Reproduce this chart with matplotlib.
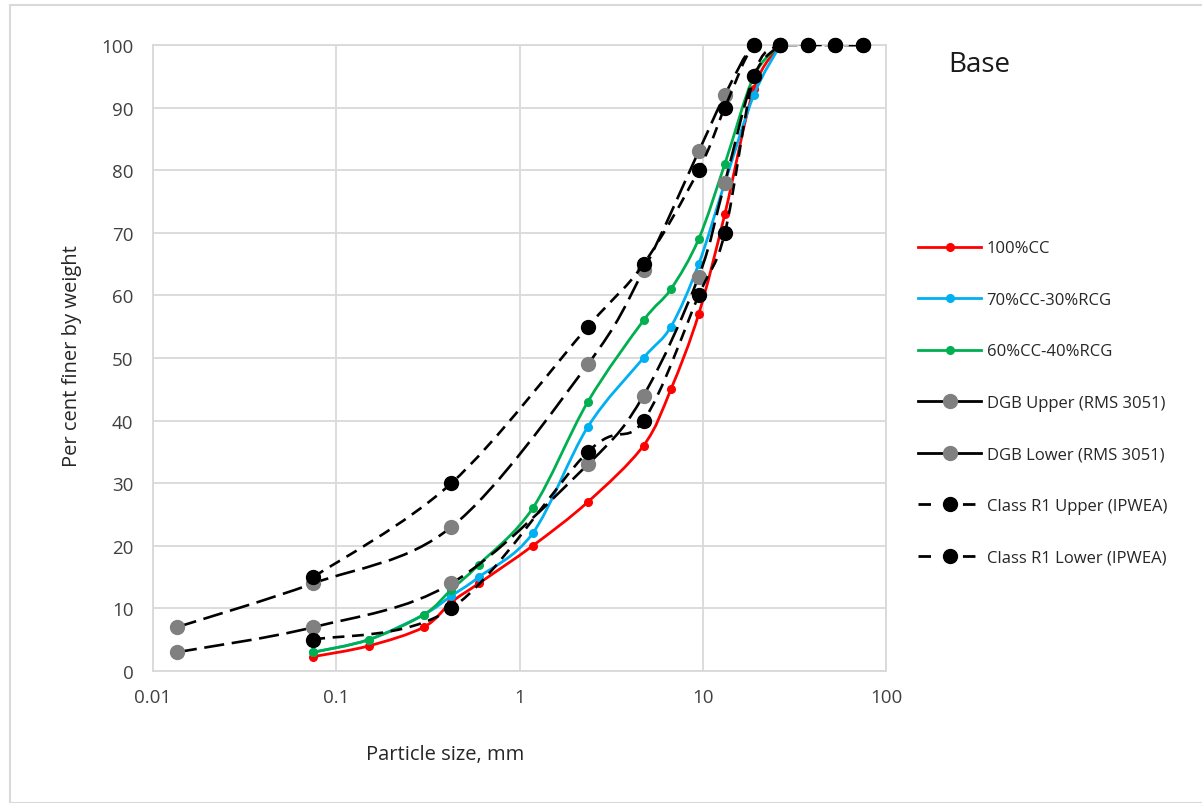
import numpy as np
import matplotlib
matplotlib.use('Agg')
import matplotlib.pyplot as plt
from matplotlib.path import Path
from matplotlib.patches import PathPatch, Rectangle
from matplotlib.lines import Line2D

plt.rcParams['font.family'] = ['Open Sans', 'DejaVu Sans']
plt.rcParams['lines.scale_dashes'] = False

# particle size data (mm) and per cent passing
mix_size = [0.075, 0.15, 0.3, 0.425, 0.6, 1.18, 2.36, 4.75, 6.7, 9.5, 13.2, 19, 26.5]
cc100 = [2.3, 4, 7, 11, 14, 20, 27, 36, 45, 57, 73, 93, 100]
cc70_rcg30 = [3, 5, 9, 12, 15, 22, 39, 50, 55, 65, 78, 92, 100]
cc60_rcg40 = [3, 5, 9, 13, 17, 26, 43, 56, 61, 69, 81, 95, 100]

dgb_size = [0.0135, 0.075, 0.425, 2.36, 4.75, 9.5, 13.2, 19, 26.5]
dgb_upper = [7, 14, 23, 49, 64, 83, 92, 100, 100]
dgb_lower = [3, 7, 14, 33, 44, 63, 78, 95, 100]

r1_size = [0.075, 0.425, 2.36, 4.75, 9.5, 13.2, 19, 26.5, 37.5, 53, 75]
r1_upper = [15, 30, 55, 65, 80, 90, 100, 100, 100, 100, 100]
r1_lower = [5, 10, 35, 40, 60, 70, 95, 100, 100, 100, 100]

labels = ['100%CC', '70%CC-30%RCG', '60%CC-40%RCG', 'DGB Upper (RMS 3051)',
          'DGB Lower (RMS 3051)', 'Class R1 Upper (IPWEA)', 'Class R1 Lower (IPWEA)']

RED, BLUE, GREEN, GREY = '#FF0000', '#00B0F0', '#00B050', '#808080'
SHORT = (0, (8.5, 5.5))
LONG = (0, (14.5, 5.5))


def smooth_path(x, y):
    # Excel-like smoothed line: cubic bezier, catmull-rom tangents in log-x space
    lx = np.log10(np.asarray(x, float))
    yy = np.asarray(y, float)
    pts = np.column_stack([lx, yy])
    n = len(pts)
    verts = [pts[0]]
    codes = [Path.MOVETO]
    for i in range(n - 1):
        p0 = pts[max(i - 1, 0)]
        p1 = pts[i]
        p2 = pts[i + 1]
        p3 = pts[min(i + 2, n - 1)]
        c1 = p1 + (p2 - p0) / 6.0
        c2 = p2 - (p3 - p1) / 6.0
        verts += [c1, c2, p2]
        codes += [Path.CURVE4] * 3
    verts = np.array(verts)
    verts[:, 0] = 10 ** verts[:, 0]
    return Path(verts, codes)


fig = plt.figure(figsize=(12.02, 8.04), dpi=100)
W, H = 1202, 804
fig.patches.append(Rectangle((10 / W, 0), 1.0, 1 - 6 / H, transform=fig.transFigure,
                             fill=False, edgecolor='#D9D9D9', lw=1.5))

ax = fig.add_axes([153 / W, 1 - 672 / H, 733 / W, 626 / H])
ax.set_xscale('log')
ax.set_xlim(0.01, 100)
ax.set_ylim(0, 100)
ax.set_yticks(range(0, 101, 10))
ax.set_xticks([0.01, 0.1, 1, 10, 100])
ax.set_xticklabels(['0.01', '0.1', '1', '10', '100'])
ax.xaxis.set_minor_locator(matplotlib.ticker.NullLocator())
ax.grid(True, color='#D9D9D9', lw=1.3)
ax.set_axisbelow(True)
for s in ax.spines.values():
    s.set_color('#D9D9D9')
    s.set_linewidth(1.3)
ax.tick_params(length=0, labelsize=13.5, labelcolor='#404040')
ax.tick_params(axis='y', pad=14)
ax.tick_params(axis='x', pad=12)

series = [
    (mix_size, cc100, RED, '-', RED, 5.5),
    (mix_size, cc70_rcg30, BLUE, '-', BLUE, 5.5),
    (mix_size, cc60_rcg40, GREEN, '-', GREEN, 5.5),
    (dgb_size, dgb_upper, 'black', LONG, GREY, 10),
    (dgb_size, dgb_lower, 'black', LONG, GREY, 10),
    (r1_size, r1_upper, 'black', SHORT, 'black', 10),
    (r1_size, r1_lower, 'black', SHORT, 'black', 10),
]
for k, (x, y, lc, ls, mc, ms) in enumerate(series):
    lw = 2.0 if k < 3 else 1.9
    ax.add_patch(PathPatch(smooth_path(x, y), fill=False, edgecolor=lc, lw=lw,
                           linestyle=ls, zorder=2 + k * 0.1, capstyle='butt'))
    ax.plot(x, y, linestyle='none', marker='o', ms=ms, color=mc, mec=mc,
            zorder=2.05 + k * 0.1, clip_on=False)

handles = [
    Line2D([], [], color=RED, lw=2, marker='o', ms=5.5),
    Line2D([], [], color=BLUE, lw=2, marker='o', ms=5.5),
    Line2D([], [], color=GREEN, lw=2, marker='o', ms=5.5),
    Line2D([], [], color='black', lw=2, marker='o', ms=10, mfc=GREY, mec=GREY),
    Line2D([], [], color='black', lw=2, marker='o', ms=10, mfc=GREY, mec=GREY),
    Line2D([], [], color='black', lw=2, ls=(0, (9, 23)), marker='o', ms=10),
    Line2D([], [], color='black', lw=2, ls=(0, (9, 23)), marker='o', ms=10),
]
leg = fig.legend(handles, labels, loc='upper left', bbox_to_anchor=(910 / W, 1 - 233 / H),
                 frameon=False, fontsize=12, labelspacing=2.13, handlelength=3.75,
                 handletextpad=0.35, borderpad=0, labelcolor='#262626')

fig.text(948 / W, 1 - 65 / H, 'Base', fontsize=20, color='#1a1a1a', va='center', ha='left')
fig.text(445 / W, 1 - 755 / H, 'Particle size, mm', fontsize=14.5, color='#262626',
         ha='center', va='center')
fig.text(72 / W, 1 - 356 / H, 'Per cent finer by weight', fontsize=14.5, color='#262626',
         ha='center', va='center', rotation=90)

fig.savefig('out.png', dpi=100, facecolor='white')
